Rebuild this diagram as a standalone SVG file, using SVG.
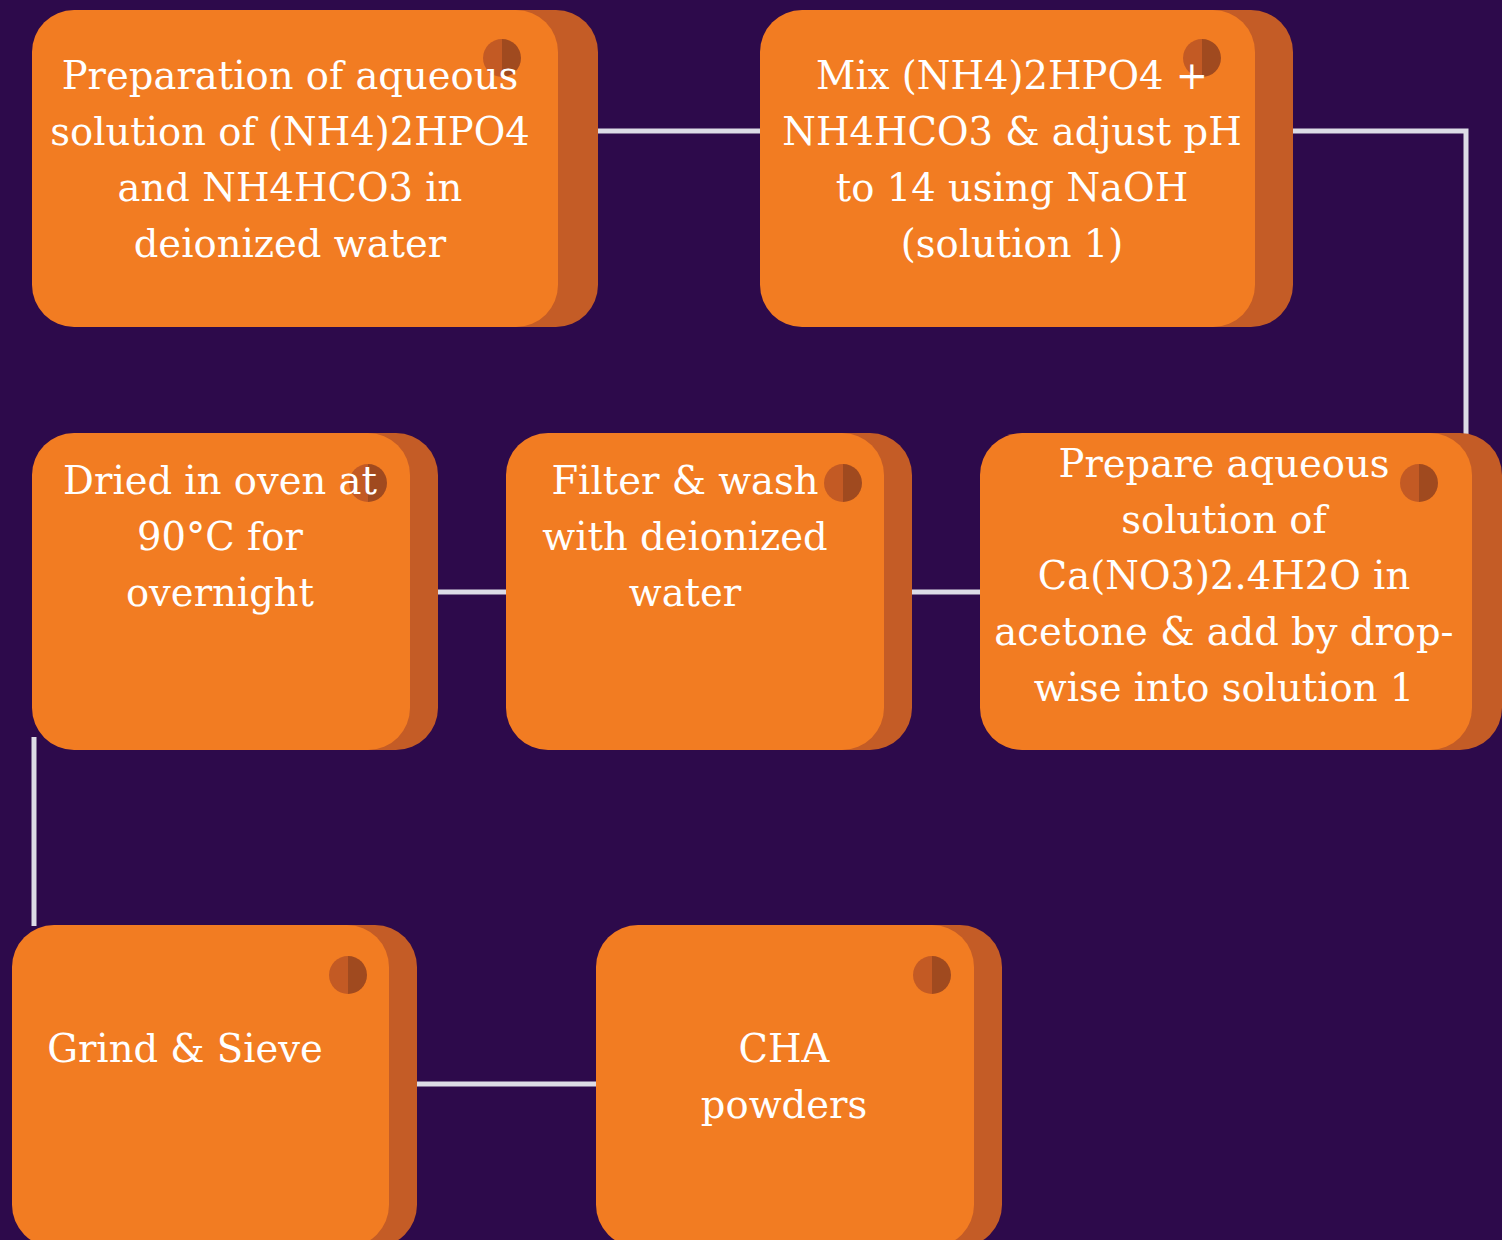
<svg xmlns="http://www.w3.org/2000/svg" width="1502" height="1240" viewBox="0 0 1502 1240">
<style>
.bg{fill:#2d0a4b}
.back{fill:#c45c26}
.front{fill:#f27c22}
.hl{fill:#c35a24}
.hr{fill:#a04a1f}
.conn{fill:none;stroke:#dcdce6;stroke-width:5}
text{font-family:"DejaVu Serif","Liberation Serif",serif;font-size:38.5px;fill:#ffffff;text-anchor:middle}
</style>
<rect class="bg" x="0" y="0" width="1502" height="1240"/>
<g id="connectors">
<path class="conn" d="M598 131H760"/>
<path class="conn" d="M1293 131H1466V434"/>
<path class="conn" d="M912 592H981"/>
<path class="conn" d="M438 592H507"/>
<path class="conn" d="M34 737V926"/>
<path class="conn" d="M417 1084H597"/>
</g>
<g id="node1">
<rect class="back" x="72" y="10" width="526" height="317" rx="42"/>
<rect class="front" x="32" y="10" width="526" height="317" rx="42"/>
<path class="hl" d="M502 39a19 19 0 0 0 0 38z"/><path class="hr" d="M502 39a19 19 0 0 1 0 38z"/>
<text x="290" y="89">Preparation of aqueous</text>
<text x="290" y="145">solution of (NH4)2HPO4</text>
<text x="290" y="201">and NH4HCO3  in</text>
<text x="290" y="257">deionized water</text>
</g>
<g id="node2">
<rect class="back" x="798" y="10" width="495" height="317" rx="42"/>
<rect class="front" x="760" y="10" width="495" height="317" rx="42"/>
<path class="hl" d="M1202 39a19 19 0 0 0 0 38z"/><path class="hr" d="M1202 39a19 19 0 0 1 0 38z"/>
<text x="1012" y="89">Mix (NH4)2HPO4 +</text>
<text x="1012" y="145">NH4HCO3 &amp; adjust pH</text>
<text x="1012" y="201">to 14 using NaOH</text>
<text x="1012" y="257">(solution 1)</text>
</g>
<g id="node3">
<rect class="back" x="1010" y="433" width="492" height="317" rx="42"/>
<rect class="front" x="980" y="433" width="492" height="317" rx="42"/>
<path class="hl" d="M1419 464a19 19 0 0 0 0 38z"/><path class="hr" d="M1419 464a19 19 0 0 1 0 38z"/>
<text x="1224" y="477">Prepare aqueous</text>
<text x="1224" y="533">solution of</text>
<text x="1224" y="589">Ca(NO3)2.4H2O in</text>
<text x="1224" y="645">acetone &amp; add by drop-</text>
<text x="1224" y="701">wise into solution 1</text>
</g>
<g id="node4">
<rect class="back" x="534" y="433" width="378" height="317" rx="42"/>
<rect class="front" x="506" y="433" width="378" height="317" rx="42"/>
<path class="hl" d="M843 464a19 19 0 0 0 0 38z"/><path class="hr" d="M843 464a19 19 0 0 1 0 38z"/>
<text x="685" y="494">Filter &amp; wash</text>
<text x="685" y="550">with deionized</text>
<text x="685" y="606">water</text>
</g>
<g id="node5">
<rect class="back" x="60" y="433" width="378" height="317" rx="42"/>
<rect class="front" x="32" y="433" width="378" height="317" rx="42"/>
<path class="hl" d="M368 464a19 19 0 0 0 0 38z"/><path class="hr" d="M368 464a19 19 0 0 1 0 38z"/>
<text x="220" y="494">Dried in oven at</text>
<text x="220" y="550">90°C for</text>
<text x="220" y="606">overnight</text>
</g>
<g id="node6">
<rect class="back" x="40" y="925" width="377" height="322" rx="42"/>
<rect class="front" x="12" y="925" width="377" height="322" rx="42"/>
<path class="hl" d="M348 956a19 19 0 0 0 0 38z"/><path class="hr" d="M348 956a19 19 0 0 1 0 38z"/>
<text x="185" y="1062">Grind &amp; Sieve</text>
</g>
<g id="node7">
<rect class="back" x="624" y="925" width="378" height="322" rx="42"/>
<rect class="front" x="596" y="925" width="378" height="322" rx="42"/>
<path class="hl" d="M932 956a19 19 0 0 0 0 38z"/><path class="hr" d="M932 956a19 19 0 0 1 0 38z"/>
<text x="784" y="1062">CHA</text>
<text x="784" y="1118">powders</text>
</g>
</svg>
